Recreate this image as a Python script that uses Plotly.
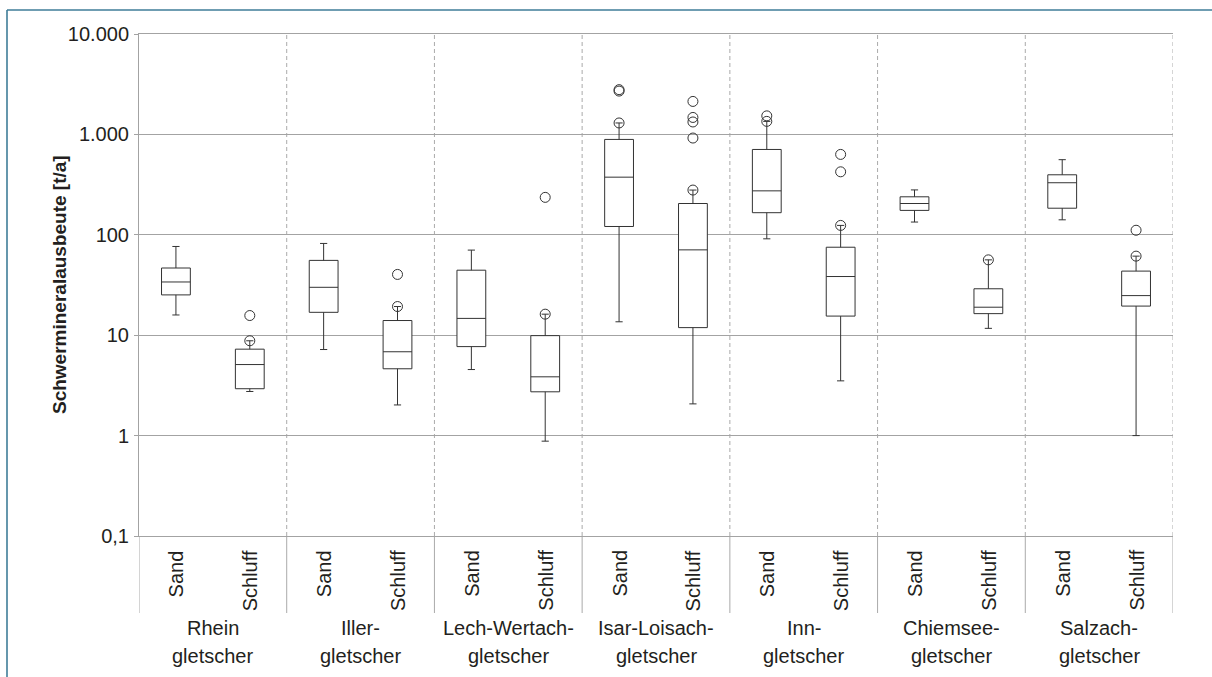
import plotly.graph_objects as go

# Glacier groups, each with a sand and a silt fraction
groups = ["Rhein\ngletscher", "Iller-\ngletscher", "Lech-Wertach-\ngletscher",
          "Isar-Loisach-\ngletscher", "Inn-\ngletscher", "Chiemsee-\ngletscher",
          "Salzach-\ngletscher"]
fractions = ["Sand", "Schluff"]

# Box statistics in t/a, order: Rhein Sand, Rhein Schluff, Iller Sand, ...
lower_whisker = [15.9, 2.75, 7.2, 2.02, 4.55, 0.88, 13.6, 2.07, 91.2, 3.51, 134, 11.7, 141, 1.0]
q1_vals       = [25.2, 2.93, 16.9, 4.63, 7.7, 2.73, 121, 11.9, 166, 15.5, 175, 16.4, 184, 19.5]
median_vals   = [33.9, 5.1, 30.0, 6.84, 14.7, 3.85, 375, 70.8, 274, 38.4, 205, 19.0, 330, 24.8]
q3_vals       = [46.7, 7.26, 55.6, 14.0, 44.4, 9.9, 891, 205, 708, 75.2, 239, 29.0, 396, 43.5]
upper_whisker = [76.5, 8.8, 82.0, 19.3, 70.4, 16.2, 1300, 279, 1348, 124, 280, 56.3, 560, 61.3]

# Individually marked values (circles) per box
marked_points = [
    [], [8.8, 15.7],
    [], [19.3, 40.3],
    [], [16.2, 236],
    [1300, 2700, 2790], [279, 920, 1330, 1475, 2130],
    [1348, 1530], [124, 424, 632],
    [], [56.3],
    [], [61.3, 111],
]

# Log-axis ticks
tick_vals = [0.1, 1, 10, 100, 1000, 10000]
tick_text = ["0,1", "1", "10", "100", "1.000", "10.000"]

# ---- layout geometry (pixels) ----
W, H = 1212, 677
ML, MR, MT, MB = 139, 39, 34, 141
PW, PH = W - ML - MR, H - MT - MB

def px_x(px):
    return (px - ML) / PW

def px_y(py):
    return (H - MB - py) / PH

FONT = "Liberation Sans, Arial"
TEXT = "#231f20"
GRID = "#a3a3a3"
BOX = "#333333"

n_cat = len(groups) * len(fractions)
xpos = [i + 0.5 for i in range(n_cat)]

fig = go.Figure()

fig.add_trace(go.Box(
    x=xpos,
    q1=q1_vals, median=median_vals, q3=q3_vals,
    lowerfence=lower_whisker, upperfence=upper_whisker,
    width=0.39, whiskerwidth=0.25,
    fillcolor="white",
    line=dict(color=BOX, width=1),
    boxpoints=False,
    showlegend=False,
))

pt_x, pt_y = [], []
for x, pts in zip(xpos, marked_points):
    for v in pts:
        pt_x.append(x)
        pt_y.append(v)

fig.add_trace(go.Scatter(
    x=pt_x, y=pt_y, mode="markers",
    marker=dict(symbol="circle-open", size=10, color=BOX, line=dict(width=1, color=BOX)),
    showlegend=False,
))

shapes = []
# group separators: dashed inside the plot, solid in the label band
for g in range(len(groups) + 1):
    xb = g * len(fractions)
    if 0 < g:
        shapes.append(dict(type="line", xref="x", yref="paper", x0=xb, x1=xb, y0=0, y1=1,
                           line=dict(color="#aaaaaa", width=1, dash="4px,3px"), layer="below"))
    shapes.append(dict(type="line", xref="x", yref="paper", x0=xb, x1=xb, y0=px_y(613), y1=0,
                       line=dict(color="#aaaaaa", width=1), layer="below"))

# outer frame (top and left edges)
frame = "#3f7d98"
shapes.append(dict(type="line", xref="paper", yref="paper", x0=px_x(7), x1=px_x(W + 5),
                   y0=px_y(10), y1=px_y(10), line=dict(color=frame, width=1.6)))
shapes.append(dict(type="line", xref="paper", yref="paper", x0=px_x(7), x1=px_x(7),
                   y0=px_y(10), y1=px_y(H + 5), line=dict(color=frame, width=1.6)))

annotations = []
for i, x in enumerate(xpos):
    annotations.append(dict(
        x=x, xref="x", y=px_y(548), yref="paper",
        text=fractions[i % len(fractions)], textangle=-90,
        xanchor="center", yanchor="top", showarrow=False,
        font=dict(family=FONT, size=20, color=TEXT),
    ))
for g, name in enumerate(groups):
    cx = g * len(fractions) + len(fractions) / 2
    for k, line in enumerate(name.split("\n")):
        annotations.append(dict(
            x=cx, xref="x", y=px_y(628 + 28 * k), yref="paper",
            text=line, xanchor="center", yanchor="middle", showarrow=False,
            font=dict(family=FONT, size=20, color=TEXT),
        ))
annotations.append(dict(
    x=px_x(59), xref="paper", y=0.5, yref="paper",
    text="<b>Schwermineralausbeute [t/a]</b>", textangle=-90,
    xanchor="center", yanchor="middle", showarrow=False,
    font=dict(family=FONT, size=19, color=TEXT),
))

fig.update_layout(
    width=W, height=H,
    margin=dict(l=ML, r=MR, t=MT, b=MB, pad=0),
    paper_bgcolor="white", plot_bgcolor="white",
    shapes=shapes, annotations=annotations,
    xaxis=dict(range=[0, n_cat], showticklabels=False, showgrid=False, zeroline=False,
               ticks="", showline=True, mirror=True, linecolor=GRID, linewidth=1, fixedrange=True),
    yaxis=dict(type="log", range=[-1, 4], tickvals=tick_vals, ticktext=tick_text,
               showgrid=True, gridcolor=GRID, gridwidth=1, zeroline=False,
               showline=True, linecolor=GRID, linewidth=1,
               ticks="outside", ticklen=4, tickcolor=GRID, ticklabelstandoff=1,
               tickfont=dict(family=FONT, size=20, color=TEXT)),
)

fig.write_html("out.html")
